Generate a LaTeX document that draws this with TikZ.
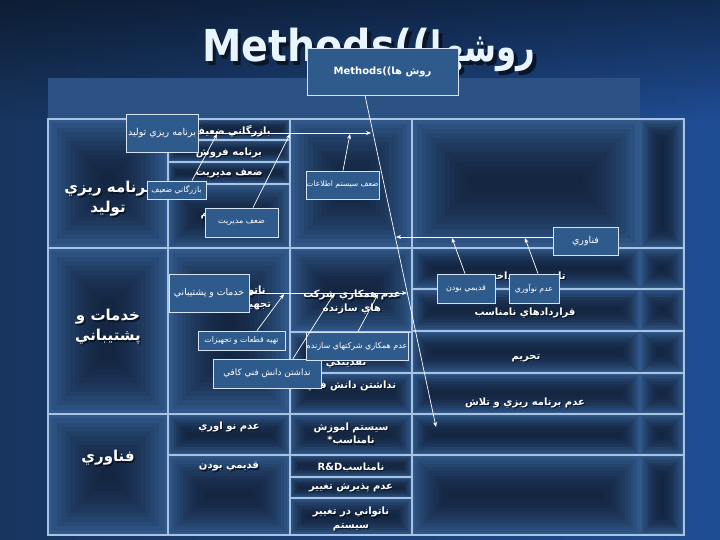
\documentclass[tikz,border=0pt]{standalone}
\usepackage{fontspec}
\usepackage{graphicx}
\usetikzlibrary{arrows.meta,calc,fadings}
\TeXXeTstate=1
\newfontfamily\fa[Script=Arabic]{DejaVu Sans}
\newcommand\R[1]{\beginR #1\endR}
\definecolor{bgL}{HTML}{18355F}
\definecolor{bgR}{HTML}{1F4D94}
\definecolor{panel}{HTML}{2C5283}
\definecolor{cellfill}{HTML}{30588A}
\definecolor{celldark}{HTML}{0E1A2E}
\definecolor{cellline}{HTML}{A9C3E3}
\definecolor{boxfill}{HTML}{2F5B8C}
\definecolor{boxline}{HTML}{D5E3F3}
\definecolor{shadowc}{HTML}{0A1628}
\definecolor{titlec}{HTML}{E8F4FF}
\tikzset{
  cellborder/.style={draw=cellline, line width=1.1pt},
  txt/.style={text=white, font=\fa\bfseries\fontsize{10}{13.5}\selectfont, align=center, inner sep=0pt},
  txtsh/.style={text=shadowc, font=\fa\bfseries\fontsize{10}{13.5}\selectfont, align=center, inner sep=0pt},
  bigtxt/.style={text=white, font=\fa\bfseries\fontsize{15}{20}\selectfont, align=center, inner sep=0pt},
  bigtxtsh/.style={text=shadowc, font=\fa\bfseries\fontsize{15}{20}\selectfont, align=center, inner sep=0pt},
  tbox/.style={draw=boxline, line width=0.8pt, fill=boxfill, text=white, inner sep=0pt, align=center},
  bone/.style={draw=white, line width=0.7pt, -{Stealth[length=5pt,width=4pt]}},
}
% shaded cell (no border)
\newcommand\cellshade[4]{%
  \fill[cellfill] (#1,#2) rectangle (#3,#4);
  \pgfmathsetmacro\cw{#3-#1}%
  \pgfmathsetmacro\ch{#4-#2}%
  \pgfmathsetmacro\cm{min(\cw,\ch)}%
  \foreach \k in {1,...,12}{%
    \pgfmathsetmacro\ins{\k*\cm/27}%
    \fill[celldark,opacity=0.11] (#1+\ins,#2+\ins) rectangle (#3-\ins,#4-\ins);
  }%
}
\newcommand\cellB[4]{\cellshade{#1}{#2}{#3}{#4}\draw[cellborder] (#1,#2) rectangle (#3,#4);}
\newcommand\cellW[2]{\cellshade{412}{#1}{640}{#2}\cellshade{640}{#1}{684}{#2}\draw[cellborder] (412,#1) rectangle (684,#2);}
\newcommand\ctext[4]{%
  \node[txtsh] (#1-sh) at (#2+1.2,#3+1.2) {#4};
  \node[txt] (#1) at (#2,#3) {#4};}
\newcommand\btext[4]{%
  \node[bigtxtsh] (#1-sh) at (#2+1.5,#3+1.5) {#4};
  \node[bigtxt] (#1) at (#2,#3) {#4};}
\newcommand\tagbox[7]{%
  \node[tbox, minimum width={#4-#2}, minimum height={#5-#3}, font=\fa\fontsize{#6}{#6}\selectfont] (#1) at ({(#2+#4)/2},{(#3+#5)/2}) {#7};}
\newcommand\titletext{\scalebox{0.9}[1]{Methods((}\scalebox{0.74}[0.95]{\R{روشها}}}

\begin{document}
\begin{tikzpicture}[x=1pt,y=-1pt]
\useasboundingbox (0,0) rectangle (720,540);
% background
\shade[left color=bgL, right color=bgR] (0,0) rectangle (720,540);
\fill[black, path fading=south, opacity=0.45] (0,0) rectangle (720,120);
% title
\node[text=shadowc, font=\fa\bfseries\fontsize{44}{44}\selectfont, inner sep=0pt, anchor=base west] (title-sh) at (205.5,65.5) {\titletext};
\node[text=titlec, font=\fa\bfseries\fontsize{44}{44}\selectfont, inner sep=0pt, anchor=base west] (title) at (202,62) {\titletext};
% panel
\fill[panel] (48,78) rectangle (640,119);
% cells column 1
\cellB{48}{119}{168}{248}
\cellB{48}{248}{168}{414}
\cellB{48}{414}{168}{535}
% column 2
\cellB{168}{119}{290}{140}
\cellB{168}{140}{290}{162}
\cellB{168}{162}{290}{184}
\cellB{168}{184}{290}{248}
\cellB{168}{248}{290}{414}
\cellB{168}{414}{290}{455}
\cellB{168}{455}{290}{535}
% column 3
\cellB{290}{119}{412}{248}
\cellB{290}{248}{412}{332}
\cellB{290}{332}{412}{373}
\cellB{290}{373}{412}{414}
\cellB{290}{414}{412}{455}
\cellB{290}{455}{412}{477}
\cellB{290}{477}{412}{498}
\cellB{290}{498}{412}{535}
% column 4
\cellW{119}{248}
\cellW{248}{289}
\cellW{289}{331}
\cellW{331}{373}
\cellW{373}{414}
\cellW{414}{455}
\cellW{455}{535}
\draw[cellborder] (48,119) rectangle (684,535);
% left column texts
\btext{L1}{108}{199}{\R{برنامه ريزي}\\\R{توليد}}
\btext{L2}{108}{327}{\R{خدمات و}\\\R{پشتيباني}}
\btext{L3}{108}{458}{\R{فناوري}}
% cell texts
\ctext{c2a}{232}{131}{\R{بازرگاني ضعيف}}
\ctext{c2b}{229}{153}{\R{برنامه فروش}}
\ctext{c2c}{229}{174}{\R{ضعف مديريت}}
\ctext{c2d}{234}{215}{\R{ضعف سيستم}}
\ctext{c2e}{226}{298}{\R{ناتواني در تامين}\\\R{تجهيزات و قطعات}}
\ctext{c3a}{352}{302}{\R{عدم همكاري شركت}\\\R{هاي سازنده}}
\ctext{c3b}{346}{362}{\R{نقدينگي}}
\ctext{c3c}{351}{386}{\R{نداشتن دانش فني}}
\ctext{c4a}{526}{277}{\R{تاخير در پرداخت}}
\ctext{c4b}{525}{313}{\R{قراردادهاي نامناسب}}
\ctext{c4c}{526}{358}{\R{تحريم}}
\ctext{c4d}{525}{403}{\R{عدم برنامه ريزي و تلاش}}
\ctext{c2f}{229}{427}{\R{عدم نو اوري}}
\ctext{c2g}{229}{467}{\R{قديمي بودن}}
\ctext{c3d}{351}{434}{\R{سيستم اموزش}\\{*}\R{نامناسب}}
\ctext{c3e}{351}{467}{R\&D\R{نامناسب}}
\ctext{c3f}{351}{488}{\R{عدم پذيرش تغيير}}
\ctext{c3g}{351}{519}{\R{ناتواني در تغيير}\\\R{سيستم}}
% small boxes
\tagbox{methods}{307}{48}{458}{95}{10}{\bfseries Methods((\R{روش ها}}
\tagbox{ptolid}{126}{114}{198}{152}{9.5}{\R{برنامه ريزي توليد}}
\tagbox{bazargani}{147}{181}{206}{199}{7.8}{\R{بازرگاني ضعيف}}
\tagbox{zmod}{205}{208}{278}{237}{8}{\R{ضعف مديريت}}
\tagbox{zsys}{306}{171}{379}{199}{7.6}{\R{ضعف سيستم اطلاعات}}
\tagbox{fanavari}{553}{227}{618}{255}{9.5}{\R{فناوري}}
\tagbox{qadimi}{437}{274}{495}{303}{8}{\R{قديمي بودن}}
\tagbox{noavari}{509}{274}{559}{303}{7.8}{\R{عدم نوآوري}}
\tagbox{khadamat}{169}{274}{249}{312}{9.3}{\R{خدمات و پشتيباني}}
\tagbox{tahie}{198}{331}{285}{350}{7.8}{\R{تهيه قطعات و تجهيزات}}
\tagbox{nadashtan}{213}{359}{321}{388}{8.8}{\R{نداشتن دانش فني كافي}}
\tagbox{hamkari}{306}{332}{408}{360}{8}{\R{عدم همكاري شركتهاي سازنده}}
% spine
\coordinate (s0) at (365,95);
\coordinate (sEnd) at (436,427);
\draw[bone] (methods.south -| s0) -- (sEnd);
% bone 1
\coordinate (b1) at (371,133);
\draw[bone] (ptolid.east |- b1) -- (b1);
\coordinate (b1a) at (217,134);
\draw[bone] (bazargani.north -| 192,0) -- (b1a);
\coordinate (b1b) at (290,134);
\draw[bone] (zmod.north -| 253,0) -- (b1b);
\coordinate (b1c) at (350,134);
\draw[bone] (zsys.north -| 343,0) -- (b1c);
% bone 2
\coordinate (b2) at (396,237);
\draw[bone] (fanavari.west |- b2) -- (b2);
\coordinate (b2a) at (452,238);
\draw[bone] (qadimi.north -| 465,0) -- (b2a);
\coordinate (b2b) at (525,238);
\draw[bone] (noavari.north -| 538,0) -- (b2b);
% bone 3
\coordinate (b3) at (407,293);
\draw[bone] (khadamat.east |- b3) -- (b3);
\coordinate (b3a) at (284,294);
\draw[bone] (tahie.north -| 257,0) -- (b3a);
\coordinate (b3b) at (334,294);
\draw[bone] (nadashtan.north -| 293,0) -- (b3b);
\coordinate (b3c) at (378,294);
\draw[bone] (hamkari.north -| 358,0) -- (b3c);
\end{tikzpicture}
\end{document}
